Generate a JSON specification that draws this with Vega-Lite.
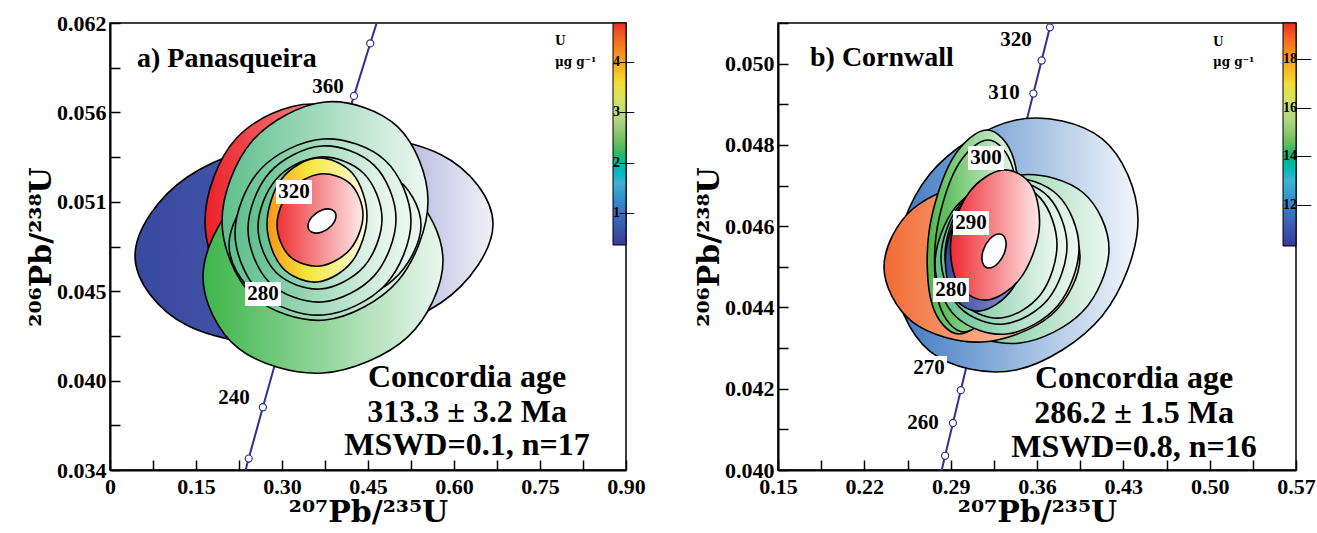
{
"$schema":"https://vega.github.io/schema/vega-lite/v6.json",
"background":"white",
"padding":{"left":25,"top":11,"right":0,"bottom":0},
"spacing":47,
"datasets":{
"concA":[{"age":200,"x":0.21771,"y":0.031511},{"age":220,"x":0.24193,"y":0.034717},{"age":240,"x":0.26664,"y":0.037932},{"age":260,"x":0.29183,"y":0.041157},{"age":280,"x":0.31753,"y":0.044392},{"age":300,"x":0.34374,"y":0.047637},{"age":320,"x":0.37047,"y":0.050893},{"age":340,"x":0.39773,"y":0.054158},{"age":360,"x":0.42553,"y":0.057434},{"age":380,"x":0.45389,"y":0.06072},{"age":400,"x":0.48281,"y":0.064016}],
"concB":[{"age":250,"x":0.27917,"y":0.039543},{"age":255,"x":0.28549,"y":0.04035},{"age":260,"x":0.29183,"y":0.041157},{"age":265,"x":0.29821,"y":0.041965},{"age":270,"x":0.30462,"y":0.042773},{"age":275,"x":0.31106,"y":0.043582},{"age":280,"x":0.31753,"y":0.044392},{"age":285,"x":0.32403,"y":0.045202},{"age":290,"x":0.33057,"y":0.046013},{"age":295,"x":0.33714,"y":0.046825},{"age":300,"x":0.34374,"y":0.047637},{"age":305,"x":0.35037,"y":0.04845},{"age":310,"x":0.35704,"y":0.049264},{"age":315,"x":0.36374,"y":0.050078},{"age":320,"x":0.37047,"y":0.050893},{"age":325,"x":0.37723,"y":0.051708},{"age":330,"x":0.38403,"y":0.052524}],
"ellA":[
{"g":"A1","i":0,"x":0.66802,"y":0.049409},{"g":"A1","i":1,"x":0.57663,"y":0.053763},{"g":"A1","i":2,"x":0.35581,"y":0.054984},{"g":"A1","i":3,"x":0.135,"y":0.052353},{"g":"A1","i":4,"x":0.0436,"y":0.047405},{"g":"A1","i":5,"x":0.135,"y":0.043051},{"g":"A1","i":6,"x":0.35581,"y":0.04183},{"g":"A1","i":7,"x":0.57663,"y":0.044461},
{"g":"A2","i":0,"x":0.53895,"y":0.049597},{"g":"A2","i":1,"x":0.48419,"y":0.054778},{"g":"A2","i":2,"x":0.35233,"y":0.056926},{"g":"A2","i":3,"x":0.22047,"y":0.054778},{"g":"A2","i":4,"x":0.1657,"y":0.049597},{"g":"A2","i":5,"x":0.22047,"y":0.044417},{"g":"A2","i":6,"x":0.35233,"y":0.042269},{"g":"A2","i":7,"x":0.48419,"y":0.044417},
{"g":"A3","i":0,"x":0.58081,"y":0.047092},{"g":"A3","i":1,"x":0.51942,"y":0.051552},{"g":"A3","i":2,"x":0.37151,"y":0.053105},{"g":"A3","i":3,"x":0.2236,"y":0.050844},{"g":"A3","i":4,"x":0.16221,"y":0.04609},{"g":"A3","i":5,"x":0.2236,"y":0.04163},{"g":"A3","i":6,"x":0.37151,"y":0.040076},{"g":"A3","i":7,"x":0.51942,"y":0.042338},
{"g":"A4","i":0,"x":0.55465,"y":0.05085},{"g":"A4","i":1,"x":0.50198,"y":0.055492},{"g":"A4","i":2,"x":0.375,"y":0.057051},{"g":"A4","i":3,"x":0.24802,"y":0.054609},{"g":"A4","i":4,"x":0.19535,"y":0.049597},{"g":"A4","i":5,"x":0.24802,"y":0.044956},{"g":"A4","i":6,"x":0.375,"y":0.043396},{"g":"A4","i":7,"x":0.50198,"y":0.045839},
{"g":"A5","i":0,"x":0.54244,"y":0.049347},{"g":"A5","i":1,"x":0.49343,"y":0.052441},{"g":"A5","i":2,"x":0.375,"y":0.053356},{"g":"A5","i":3,"x":0.25657,"y":0.051552},{"g":"A5","i":4,"x":0.20756,"y":0.048094},{"g":"A5","i":5,"x":0.25657,"y":0.045},{"g":"A5","i":6,"x":0.375,"y":0.044085},{"g":"A5","i":7,"x":0.49343,"y":0.045889},
{"g":"A6","i":0,"x":0.525,"y":0.049597},{"g":"A6","i":1,"x":0.48,"y":0.053387},{"g":"A6","i":2,"x":0.37151,"y":0.054734},{"g":"A6","i":3,"x":0.26302,"y":0.052855},{"g":"A6","i":4,"x":0.21802,"y":0.048846},{"g":"A6","i":5,"x":0.26302,"y":0.045056},{"g":"A6","i":6,"x":0.37151,"y":0.043709},{"g":"A6","i":7,"x":0.48,"y":0.045588},
{"g":"A7","i":0,"x":0.49884,"y":0.049723},{"g":"A7","i":1,"x":0.46099,"y":0.053086},{"g":"A7","i":2,"x":0.36977,"y":0.054295},{"g":"A7","i":3,"x":0.27855,"y":0.052642},{"g":"A7","i":4,"x":0.2407,"y":0.049096},{"g":"A7","i":5,"x":0.27855,"y":0.045732},{"g":"A7","i":6,"x":0.36977,"y":0.044523},{"g":"A7","i":7,"x":0.46099,"y":0.046177},
{"g":"A8","i":0,"x":0.47442,"y":0.049723},{"g":"A8","i":1,"x":0.44268,"y":0.052573},{"g":"A8","i":2,"x":0.36628,"y":0.053606},{"g":"A8","i":3,"x":0.28988,"y":0.052216},{"g":"A8","i":4,"x":0.25814,"y":0.049222},{"g":"A8","i":5,"x":0.28988,"y":0.046371},{"g":"A8","i":6,"x":0.36628,"y":0.045338},{"g":"A8","i":7,"x":0.44268,"y":0.046728},
{"g":"A9","i":0,"x":0.44826,"y":0.049911},{"g":"A9","i":1,"x":0.42279,"y":0.052585},{"g":"A9","i":2,"x":0.36105,"y":0.053544},{"g":"A9","i":3,"x":0.2993,"y":0.052228},{"g":"A9","i":4,"x":0.27384,"y":0.049409},{"g":"A9","i":5,"x":0.2993,"y":0.046735},{"g":"A9","i":6,"x":0.36105,"y":0.045776},{"g":"A9","i":7,"x":0.42279,"y":0.047092},
{"g":"A10","i":0,"x":0.44128,"y":0.049973},{"g":"A10","i":1,"x":0.4193,"y":0.051921},{"g":"A10","i":2,"x":0.36628,"y":0.052541},{"g":"A10","i":3,"x":0.31326,"y":0.051477},{"g":"A10","i":4,"x":0.29128,"y":0.049347},{"g":"A10","i":5,"x":0.31326,"y":0.047398},{"g":"A10","i":6,"x":0.36628,"y":0.046778},{"g":"A10","i":7,"x":0.4193,"y":0.047843},
{"g":"A11","i":0,"x":0.39419,"y":0.049911},{"g":"A11","i":1,"x":0.38704,"y":0.050305},{"g":"A11","i":2,"x":0.36977,"y":0.050286},{"g":"A11","i":3,"x":0.3525,"y":0.04986},{"g":"A11","i":4,"x":0.34535,"y":0.049284},{"g":"A11","i":5,"x":0.3525,"y":0.048889},{"g":"A11","i":6,"x":0.36977,"y":0.048908},{"g":"A11","i":7,"x":0.38704,"y":0.049334}
],
"ellB":[
{"g":"B1","i":0,"x":0.44189,"y":0.046152},{"g":"B1","i":1,"x":0.41295,"y":0.048148},{"g":"B1","i":2,"x":0.34297,"y":0.048613},{"g":"B1","i":3,"x":0.273,"y":0.047277},{"g":"B1","i":4,"x":0.24405,"y":0.044922},{"g":"B1","i":5,"x":0.273,"y":0.042926},{"g":"B1","i":6,"x":0.34297,"y":0.042461},{"g":"B1","i":7,"x":0.41295,"y":0.043797},
{"g":"B5","i":0,"x":0.41838,"y":0.045438},{"g":"B5","i":1,"x":0.39722,"y":0.046829},{"g":"B5","i":2,"x":0.34622,"y":0.04726},{"g":"B5","i":3,"x":0.29522,"y":0.046479},{"g":"B5","i":4,"x":0.27405,"y":0.044946},{"g":"B5","i":5,"x":0.29522,"y":0.043556},{"g":"B5","i":6,"x":0.34622,"y":0.043125},{"g":"B5","i":7,"x":0.39722,"y":0.043905},
{"g":"B2","i":0,"x":0.39486,"y":0.045242},{"g":"B2","i":1,"x":0.37159,"y":0.046598},{"g":"B2","i":2,"x":0.31541,"y":0.047087},{"g":"B2","i":3,"x":0.25922,"y":0.046423},{"g":"B2","i":4,"x":0.23595,"y":0.044996},{"g":"B2","i":5,"x":0.25922,"y":0.04364},{"g":"B2","i":6,"x":0.31541,"y":0.04315},{"g":"B2","i":7,"x":0.37159,"y":0.043814},
{"g":"B3","i":0,"x":0.34378,"y":0.045857},{"g":"B3","i":1,"x":0.34135,"y":0.047631},{"g":"B3","i":2,"x":0.31946,"y":0.048367},{"g":"B3","i":3,"x":0.29092,"y":0.047631},{"g":"B3","i":4,"x":0.27243,"y":0.045857},{"g":"B3","i":5,"x":0.27486,"y":0.044083},{"g":"B3","i":6,"x":0.29676,"y":0.043347},{"g":"B3","i":7,"x":0.3253,"y":0.044083},
{"g":"B3b","i":0,"x":0.34297,"y":0.045758},{"g":"B3b","i":1,"x":0.34038,"y":0.047429},{"g":"B3b","i":2,"x":0.32027,"y":0.048121},{"g":"B3b","i":3,"x":0.29449,"y":0.047429},{"g":"B3b","i":4,"x":0.27811,"y":0.045758},{"g":"B3b","i":5,"x":0.2807,"y":0.044087},{"g":"B3b","i":6,"x":0.30081,"y":0.043396},{"g":"B3b","i":7,"x":0.32659,"y":0.044087},
{"g":"B6","i":0,"x":0.39405,"y":0.045463},{"g":"B6","i":1,"x":0.37694,"y":0.046762},{"g":"B6","i":2,"x":0.33568,"y":0.047186},{"g":"B6","i":3,"x":0.2944,"y":0.046484},{"g":"B6","i":4,"x":0.2773,"y":0.045069},{"g":"B6","i":5,"x":0.2944,"y":0.04377},{"g":"B6","i":6,"x":0.33568,"y":0.043347},{"g":"B6","i":7,"x":0.37694,"y":0.044048},
{"g":"B7","i":0,"x":0.38432,"y":0.045512},{"g":"B7","i":1,"x":0.36932,"y":0.046721},{"g":"B7","i":2,"x":0.33324,"y":0.047136},{"g":"B7","i":3,"x":0.29716,"y":0.046514},{"g":"B7","i":4,"x":0.28216,"y":0.045217},{"g":"B7","i":5,"x":0.29716,"y":0.044009},{"g":"B7","i":6,"x":0.33324,"y":0.043593},{"g":"B7","i":7,"x":0.36932,"y":0.044215},
{"g":"B8","i":0,"x":0.37622,"y":0.045537},{"g":"B8","i":1,"x":0.36292,"y":0.046684},{"g":"B8","i":2,"x":0.33081,"y":0.047087},{"g":"B8","i":3,"x":0.2987,"y":0.046509},{"g":"B8","i":4,"x":0.28541,"y":0.045291},{"g":"B8","i":5,"x":0.2987,"y":0.044144},{"g":"B8","i":6,"x":0.33081,"y":0.043741},{"g":"B8","i":7,"x":0.36292,"y":0.044319},
{"g":"B10","i":0,"x":0.35432,"y":0.045586},{"g":"B10","i":1,"x":0.34897,"y":0.046671},{"g":"B10","i":2,"x":0.32676,"y":0.047063},{"g":"B10","i":3,"x":0.30081,"y":0.046531},{"g":"B10","i":4,"x":0.28622,"y":0.045389},{"g":"B10","i":5,"x":0.29157,"y":0.044304},{"g":"B10","i":6,"x":0.31378,"y":0.043913},{"g":"B10","i":7,"x":0.33973,"y":0.044444},
{"g":"B4","i":0,"x":0.36162,"y":0.045881},{"g":"B4","i":1,"x":0.35578,"y":0.046984},{"g":"B4","i":2,"x":0.33243,"y":0.047383},{"g":"B4","i":3,"x":0.30527,"y":0.046844},{"g":"B4","i":4,"x":0.29027,"y":0.045685},{"g":"B4","i":5,"x":0.29611,"y":0.044582},{"g":"B4","i":6,"x":0.31946,"y":0.044183},{"g":"B4","i":7,"x":0.34662,"y":0.044722},
{"g":"B11","i":0,"x":0.33405,"y":0.045389},{"g":"B11","i":1,"x":0.3343,"y":0.045685},{"g":"B11","i":2,"x":0.32919,"y":0.045808},{"g":"B11","i":3,"x":0.32173,"y":0.045685},{"g":"B11","i":4,"x":0.31622,"y":0.045389},{"g":"B11","i":5,"x":0.31597,"y":0.045094},{"g":"B11","i":6,"x":0.32108,"y":0.044971},{"g":"B11","i":7,"x":0.32854,"y":0.045094}
],
"labA":[{"age":"360","x":0.3802,"y":0.05799},{"age":"320","x":0.3209,"y":0.05141},{"age":"280","x":0.2669,"y":0.04502},{"age":"240","x":0.2163,"y":0.03851}],
"labB":[{"age":"320","x":0.34297,"y":0.050582},{"age":"310","x":0.33324,"y":0.049277},{"age":"300","x":0.31865,"y":0.047678},{"age":"290","x":0.30648,"y":0.046078},{"age":"280","x":0.29027,"y":0.044429},{"age":"270","x":0.27243,"y":0.04251},{"age":"260","x":0.26757,"y":0.041156}],
"uA":[{"g":"A1","U":0.5},{"g":"A2","U":4.6},{"g":"A3","U":2.0},{"g":"A4","U":1.8},{"g":"A5","U":1.9},{"g":"A6","U":1.8},{"g":"A7","U":1.8},{"g":"A8","U":1.8},{"g":"A9","U":3.9},{"g":"A10","U":4.6}],
"uB":[{"g":"B1","U":11.0},{"g":"B5","U":12.5},{"g":"B2","U":18.8},{"g":"B3","U":12.2},{"g":"B3b","U":12.3},{"g":"B6","U":12.6},{"g":"B7","U":12.7},{"g":"B8","U":12.8},{"g":"B10","U":10.5},{"g":"B4","U":19.3}]
},
"hconcat":[
{
"width":516,"height":447,
"encoding":{
"x":{"field":"x","type":"quantitative","scale":{"domain":[0,0.9],"nice":false,"zero":false},"axis":{"title":"²⁰⁷Pb/²³⁵U","values":[0,0.075,0.15,0.225,0.3,0.375,0.45,0.525,0.6,0.675,0.75,0.825,0.9],"labelExpr":"datum.value == 0 ? '0' : (abs(datum.value/0.15 - round(datum.value/0.15)) < 0.01 ? format(datum.value,'.2f') : '')"}},
"y":{"field":"y","type":"quantitative","scale":{"domain":[0.034,0.062],"nice":false,"zero":false},"axis":{"title":"²⁰⁶Pb/²³⁸U","values":[0.034,0.0368,0.0396,0.0424,0.0452,0.048,0.0508,0.0536,0.0564,0.0592,0.062],"labelExpr":"abs((datum.value-0.034)/0.0056 - round((datum.value-0.034)/0.0056)) < 0.01 ? format(datum.value,'.3f') : ''"}}
},
"layer":[
{"data":{"name":"concA"},"mark":{"type":"line","color":"#2e3192","strokeWidth":2,"clip":true},"encoding":{"order":{"field":"age","type":"quantitative"}}},
{"data":{"name":"concA"},"mark":{"type":"point","shape":"circle","filled":true,"fill":"white","stroke":"#2e3192","strokeWidth":1.2,"size":50,"opacity":1,"clip":true}},
{"data":{"name":"ellA"},"transform":[{"filter":"datum.g=='A1'"}],"mark":{"type":"line","interpolate":"cardinal-closed","filled":true,"fill":{"gradient":"linear","x1":0,"y1":0,"x2":1,"y2":0,"stops":[{"offset":0,"color":"#3a49a0"},{"offset":0.3,"color":"#4353a6"},{"offset":1,"color":"#f2f1f9"}]},"stroke":"#000","strokeWidth":1.6},"encoding":{"detail":{"field":"g"},"order":{"field":"i","type":"quantitative"}}},
{"data":{"name":"ellA"},"transform":[{"filter":"datum.g=='A2'"}],"mark":{"type":"line","interpolate":"cardinal-closed","filled":true,"fill":{"gradient":"linear","x1":0,"y1":0,"x2":1,"y2":0,"stops":[{"offset":0,"color":"#ec2027"},{"offset":1,"color":"#fbe3e3"}]},"stroke":"#000","strokeWidth":1.6},"encoding":{"detail":{"field":"g"},"order":{"field":"i","type":"quantitative"}}},
{"data":{"name":"ellA"},"transform":[{"filter":"datum.g=='A3'"}],"mark":{"type":"line","interpolate":"cardinal-closed","filled":true,"fill":{"gradient":"linear","x1":0,"y1":0,"x2":1,"y2":0,"stops":[{"offset":0,"color":"#3cb54a"},{"offset":1,"color":"#eaf6ee"}]},"stroke":"#000","strokeWidth":1.6},"encoding":{"detail":{"field":"g"},"order":{"field":"i","type":"quantitative"}}},
{"data":{"name":"ellA"},"transform":[{"filter":{"field":"g","oneOf":["A4","A5","A6","A7","A8"]}}],"mark":{"type":"line","interpolate":"cardinal-closed","filled":true,"fill":{"gradient":"linear","x1":0,"y1":0,"x2":1,"y2":0,"stops":[{"offset":0,"color":"#5fbf8c"},{"offset":1,"color":"#eef8f3"}]},"stroke":"#000","strokeWidth":1.6},"encoding":{"detail":{"field":"g"},"order":{"field":"i","type":"quantitative"}}},
{"data":{"name":"ellA"},"transform":[{"filter":"datum.g=='A9'"}],"mark":{"type":"line","interpolate":"cardinal-closed","filled":true,"fill":{"gradient":"linear","x1":0,"y1":0,"x2":1,"y2":0,"stops":[{"offset":0,"color":"#f7941d"},{"offset":0.4,"color":"#f5e53a"},{"offset":1,"color":"#fffce6"}]},"stroke":"#000","strokeWidth":1.6},"encoding":{"detail":{"field":"g"},"order":{"field":"i","type":"quantitative"}}},
{"data":{"name":"ellA"},"transform":[{"filter":"datum.g=='A10'"}],"mark":{"type":"line","interpolate":"cardinal-closed","filled":true,"fill":{"gradient":"linear","x1":0,"y1":0,"x2":1,"y2":0,"stops":[{"offset":0,"color":"#ee3136"},{"offset":1,"color":"#fde9e9"}]},"stroke":"#000","strokeWidth":1.6},"encoding":{"detail":{"field":"g"},"order":{"field":"i","type":"quantitative"}}},
{"data":{"name":"ellA"},"transform":[{"filter":"datum.g=='A11'"}],"mark":{"type":"line","interpolate":"cardinal-closed","filled":true,"fill":"#ffffff","stroke":"#000","strokeWidth":1.6},"encoding":{"detail":{"field":"g"},"order":{"field":"i","type":"quantitative"}}},
{"data":{"name":"labA"},"mark":{"type":"point","shape":"M-1,-0.667L1,-0.667L1,0.667L-1,0.667Z","size":1296,"filled":true,"fill":"white","strokeWidth":0,"opacity":1}},
{"data":{"name":"labA"},"mark":{"type":"text","font":"Liberation Serif","fontWeight":"bold","fontSize":21,"color":"black","baseline":"middle"},"encoding":{"text":{"field":"age"}}},
{"data":{"values":[{"t":"a) Panasqueira","x":0.04709,"y":0.059745}]},"mark":{"type":"text","font":"Liberation Serif","fontWeight":"bold","fontSize":28,"color":"black","align":"left","baseline":"middle"},"encoding":{"text":{"field":"t"}}},
{"data":{"values":[{"t":"Concordia age","x":0.62268,"y":0.039826},{"t":"313.3 ± 3.2 Ma","x":0.62268,"y":0.037633},{"t":"MSWD=0.1, n=17","x":0.62268,"y":0.035566}]},"mark":{"type":"text","font":"Liberation Serif","fontWeight":"bold","fontSize":32,"color":"black","align":"center","baseline":"middle"},"encoding":{"text":{"field":"t"}}},
{"data":{"values":[{"t":"U","x":0.77616,"y":0.060872},{"t":"μg g⁻¹","x":0.77616,"y":0.059557}]},"mark":{"type":"text","font":"DejaVu Serif","fontWeight":"bold","fontSize":12,"color":"black","align":"left","baseline":"middle"},"encoding":{"text":{"field":"t"}}},
{"data":{"name":"uA"},"mark":{"type":"point","opacity":0},"encoding":{"color":{"field":"U","type":"quantitative","scale":{"domain":[0.37,4.77],"range":["#3a3a98","#3b6fc0","#49b3d6","#47b550","#b5d88a","#f4e43c","#f7931e","#ee2a2a"]},"legend":{"orient":"none","legendX":503,"legendY":0,"direction":"vertical","title":null,"gradientLength":222,"gradientThickness":13,"values":[1,2,3,4],"labelAlign":"right","labelOffset":-13,"labelExpr":"datum.label + '—'","labelFont":"Liberation Serif","labelFontWeight":"bold","labelFontSize":14,"labelColor":"black","gradientStrokeColor":"black","gradientStrokeWidth":1,"padding":0}}}}
]
},
{
"width":518,"height":447,
"encoding":{
"x":{"field":"x","type":"quantitative","scale":{"domain":[0.15,0.57],"nice":false,"zero":false},"axis":{"title":"²⁰⁷Pb/²³⁵U","values":[0.15,0.185,0.22,0.255,0.29,0.325,0.36,0.395,0.43,0.465,0.5,0.535,0.57],"labelExpr":"abs((datum.value-0.15)/0.07 - round((datum.value-0.15)/0.07)) < 0.01 ? format(datum.value,'.2f') : ''"}},
"y":{"field":"y","type":"quantitative","scale":{"domain":[0.04,0.051],"nice":false,"zero":false},"axis":{"title":"²⁰⁶Pb/²³⁸U","values":[0.04,0.041,0.042,0.043,0.044,0.045,0.046,0.047,0.048,0.049,0.05,0.051],"labelExpr":"(abs(datum.value/0.002 - round(datum.value/0.002)) < 0.01 && datum.value < 0.0505) ? format(datum.value,'.3f') : ''"}}
},
"layer":[
{"data":{"name":"concB"},"mark":{"type":"line","color":"#2e3192","strokeWidth":2,"clip":true},"encoding":{"order":{"field":"age","type":"quantitative"}}},
{"data":{"name":"concB"},"mark":{"type":"point","shape":"circle","filled":true,"fill":"white","stroke":"#2e3192","strokeWidth":1.2,"size":50,"opacity":1,"clip":true}},
{"data":{"name":"ellB"},"transform":[{"filter":"datum.g=='B1'"}],"mark":{"type":"line","interpolate":"cardinal-closed","filled":true,"fill":{"gradient":"linear","x1":0,"y1":0,"x2":1,"y2":0,"stops":[{"offset":0,"color":"#3b78c2"},{"offset":1,"color":"#f2f6fb"}]},"stroke":"#000","strokeWidth":1.6},"encoding":{"detail":{"field":"g"},"order":{"field":"i","type":"quantitative"}}},
{"data":{"name":"ellB"},"transform":[{"filter":"datum.g=='B5'"}],"mark":{"type":"line","interpolate":"cardinal-closed","filled":true,"fill":{"gradient":"linear","x1":0,"y1":0,"x2":1,"y2":0,"stops":[{"offset":0,"color":"#52b97a"},{"offset":1,"color":"#eef8f2"}]},"stroke":"#000","strokeWidth":1.6},"encoding":{"detail":{"field":"g"},"order":{"field":"i","type":"quantitative"}}},
{"data":{"name":"ellB"},"transform":[{"filter":"datum.g=='B2'"}],"mark":{"type":"line","interpolate":"cardinal-closed","filled":true,"fill":{"gradient":"linear","x1":0,"y1":0,"x2":1,"y2":0,"stops":[{"offset":0,"color":"#f26a32"},{"offset":1,"color":"#fde3d2"}]},"stroke":"#000","strokeWidth":1.6},"encoding":{"detail":{"field":"g"},"order":{"field":"i","type":"quantitative"}}},
{"data":{"name":"ellB"},"transform":[{"filter":{"field":"g","oneOf":["B3","B3b"]}}],"mark":{"type":"line","interpolate":"cardinal-closed","filled":true,"fill":{"gradient":"linear","x1":0,"y1":0,"x2":1,"y2":0,"stops":[{"offset":0,"color":"#4cb748"},{"offset":1,"color":"#eaf6ec"}]},"stroke":"#000","strokeWidth":1.6},"encoding":{"detail":{"field":"g"},"order":{"field":"i","type":"quantitative"}}},
{"data":{"name":"ellB"},"transform":[{"filter":{"field":"g","oneOf":["B6","B7","B8"]}}],"mark":{"type":"line","interpolate":"cardinal-closed","filled":true,"fill":{"gradient":"linear","x1":0,"y1":0,"x2":1,"y2":0,"stops":[{"offset":0,"color":"#5fbf8c"},{"offset":1,"color":"#eef8f3"}]},"stroke":"#000","strokeWidth":1.6},"encoding":{"detail":{"field":"g"},"order":{"field":"i","type":"quantitative"}}},
{"data":{"name":"ellB"},"transform":[{"filter":"datum.g=='B10'"}],"mark":{"type":"line","interpolate":"cardinal-closed","filled":true,"fill":{"gradient":"linear","x1":0,"y1":0,"x2":1,"y2":0,"stops":[{"offset":0,"color":"#3a48a0"},{"offset":1,"color":"#9aa2d6"}]},"stroke":"#000","strokeWidth":1.6},"encoding":{"detail":{"field":"g"},"order":{"field":"i","type":"quantitative"}}},
{"data":{"name":"ellB"},"transform":[{"filter":"datum.g=='B4'"}],"mark":{"type":"line","interpolate":"cardinal-closed","filled":true,"fill":{"gradient":"linear","x1":0,"y1":0,"x2":1,"y2":0,"stops":[{"offset":0,"color":"#ee2a30"},{"offset":1,"color":"#fde7e8"}]},"stroke":"#000","strokeWidth":1.6},"encoding":{"detail":{"field":"g"},"order":{"field":"i","type":"quantitative"}}},
{"data":{"name":"ellB"},"transform":[{"filter":"datum.g=='B11'"}],"mark":{"type":"line","interpolate":"cardinal-closed","filled":true,"fill":"#ffffff","stroke":"#000","strokeWidth":1.6},"encoding":{"detail":{"field":"g"},"order":{"field":"i","type":"quantitative"}}},
{"data":{"name":"labB"},"mark":{"type":"point","shape":"M-1,-0.667L1,-0.667L1,0.667L-1,0.667Z","size":1296,"filled":true,"fill":"white","strokeWidth":0,"opacity":1}},
{"data":{"name":"labB"},"mark":{"type":"text","font":"Liberation Serif","fontWeight":"bold","fontSize":21,"color":"black","baseline":"middle"},"encoding":{"text":{"field":"age"}}},
{"data":{"values":[{"t":"b) Cornwall","x":0.17595,"y":0.050139}]},"mark":{"type":"text","font":"Liberation Serif","fontWeight":"bold","fontSize":28,"color":"black","align":"left","baseline":"middle"},"encoding":{"text":{"field":"t"}}},
{"data":{"values":[{"t":"Concordia age","x":0.43865,"y":0.042264},{"t":"286.2 ± 1.5 Ma","x":0.43865,"y":0.041403},{"t":"MSWD=0.8, n=16","x":0.43865,"y":0.040566}]},"mark":{"type":"text","font":"Liberation Serif","fontWeight":"bold","fontSize":32,"color":"black","align":"center","baseline":"middle"},"encoding":{"text":{"field":"t"}}},
{"data":{"values":[{"t":"U","x":0.5027,"y":0.050532},{"t":"μg g⁻¹","x":0.5027,"y":0.05004}]},"mark":{"type":"text","font":"DejaVu Serif","fontWeight":"bold","fontSize":12,"color":"black","align":"left","baseline":"middle"},"encoding":{"text":{"field":"t"}}},
{"data":{"name":"uB"},"mark":{"type":"point","opacity":0},"encoding":{"color":{"field":"U","type":"quantitative","scale":{"domain":[10.3,19.5],"range":["#3a3a98","#3b6fc0","#49b3d6","#47b550","#b5d88a","#f4e43c","#f7931e","#ee2a2a"]},"legend":{"orient":"none","legendX":505,"legendY":0,"direction":"vertical","title":null,"gradientLength":223,"gradientThickness":13,"values":[12,14,16,18],"labelAlign":"right","labelOffset":-13,"labelExpr":"datum.label + '—'","labelFont":"Liberation Serif","labelFontWeight":"bold","labelFontSize":14,"labelColor":"black","gradientStrokeColor":"black","gradientStrokeWidth":1,"padding":0}}}}
]
}
],
"resolve":{"scale":{"x":"independent","y":"independent","color":"independent"},"legend":{"color":"independent"}},
"config":{
"view":{"stroke":"#000","strokeWidth":1.5},
"axis":{"grid":false,"domainColor":"#000","domainWidth":2,"tickColor":"#000","tickWidth":1.5,"tickSize":-10,"labelFont":"Liberation Serif","labelFontWeight":"bold","labelFontSize":22,"labelColor":"#000","titleFont":"DejaVu Serif","titleFontWeight":"bold","titleFontSize":30,"titleColor":"#000","labelOverlap":false,"labelFlush":false},
"axisX":{"labelPadding":16,"titlePadding":0},
"axisY":{"labelPadding":14,"titlePadding":0}
}
}
